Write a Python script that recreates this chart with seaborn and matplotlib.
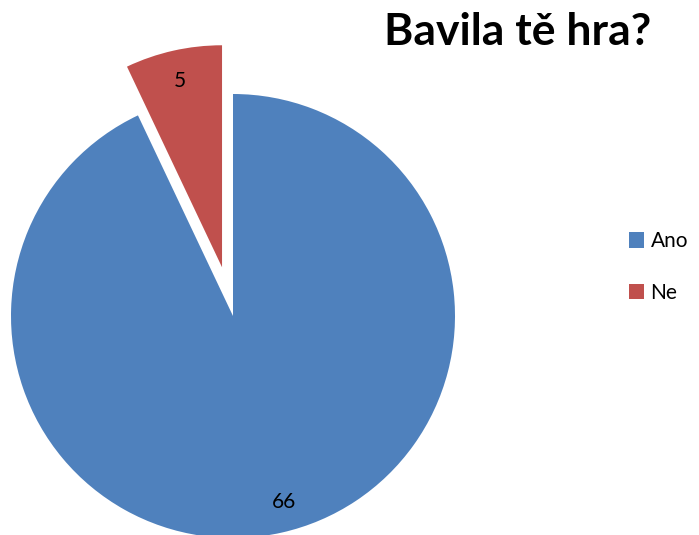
import matplotlib
matplotlib.use("Agg")
import matplotlib.pyplot as plt
import seaborn as sns
from matplotlib.patches import Patch

categories = ["Ano", "Ne"]
values = [66, 5]
colors = ["#4F81BD", "#C0504D"]
title = "Bavila tě hra?"

sns.set_theme(style="white")
plt.rcParams['font.family'] = ['Lato', 'DejaVu Sans']
plt.rcParams['text.color'] = 'black'

W, H = 699, 535
fig = plt.figure(figsize=(W / 100, H / 100), dpi=100)
ax = fig.add_axes([0, 0, 1, 1])

R = 222.0
cx, cy = 233.0, 316.0

wedges, texts, autotexts = ax.pie(
    values,
    colors=colors,
    startangle=90,
    counterclock=False,
    explode=[0, 0.225],
    autopct=lambda p: f"{round(p * sum(values) / 100):d}",
    pctdistance=0.86,
    radius=1.0,
    wedgeprops=dict(linewidth=0),
    textprops=dict(fontsize=15, color="black"),
)
# nudge the big slice's label slightly right, as in the reference
x0, y0 = autotexts[0].get_position()
autotexts[0].set_position((x0 + 9 / R, y0))

ax.set_xlim(-cx / R, (W - cx) / R)
ax.set_ylim(-(H - cy) / R, cy / R)
ax.set_aspect("equal", adjustable="datalim")
ax.axis("off")

fig.text(518 / W, 1 - 32 / H, title, ha="center", va="center",
         fontsize=32, fontweight="bold", color="black")

handles = [Patch(facecolor=c, edgecolor="none") for c in colors]
leg = fig.legend(handles, categories, loc="center left",
                 bbox_to_anchor=(610 / W, 1 - 267 / H), frameon=False,
                 fontsize=15, handlelength=0.75, handleheight=0.75,
                 handletextpad=0.3, labelspacing=1.5)
for t in leg.get_texts():
    t.set_color("black")

fig.savefig("out.png", dpi=100)
